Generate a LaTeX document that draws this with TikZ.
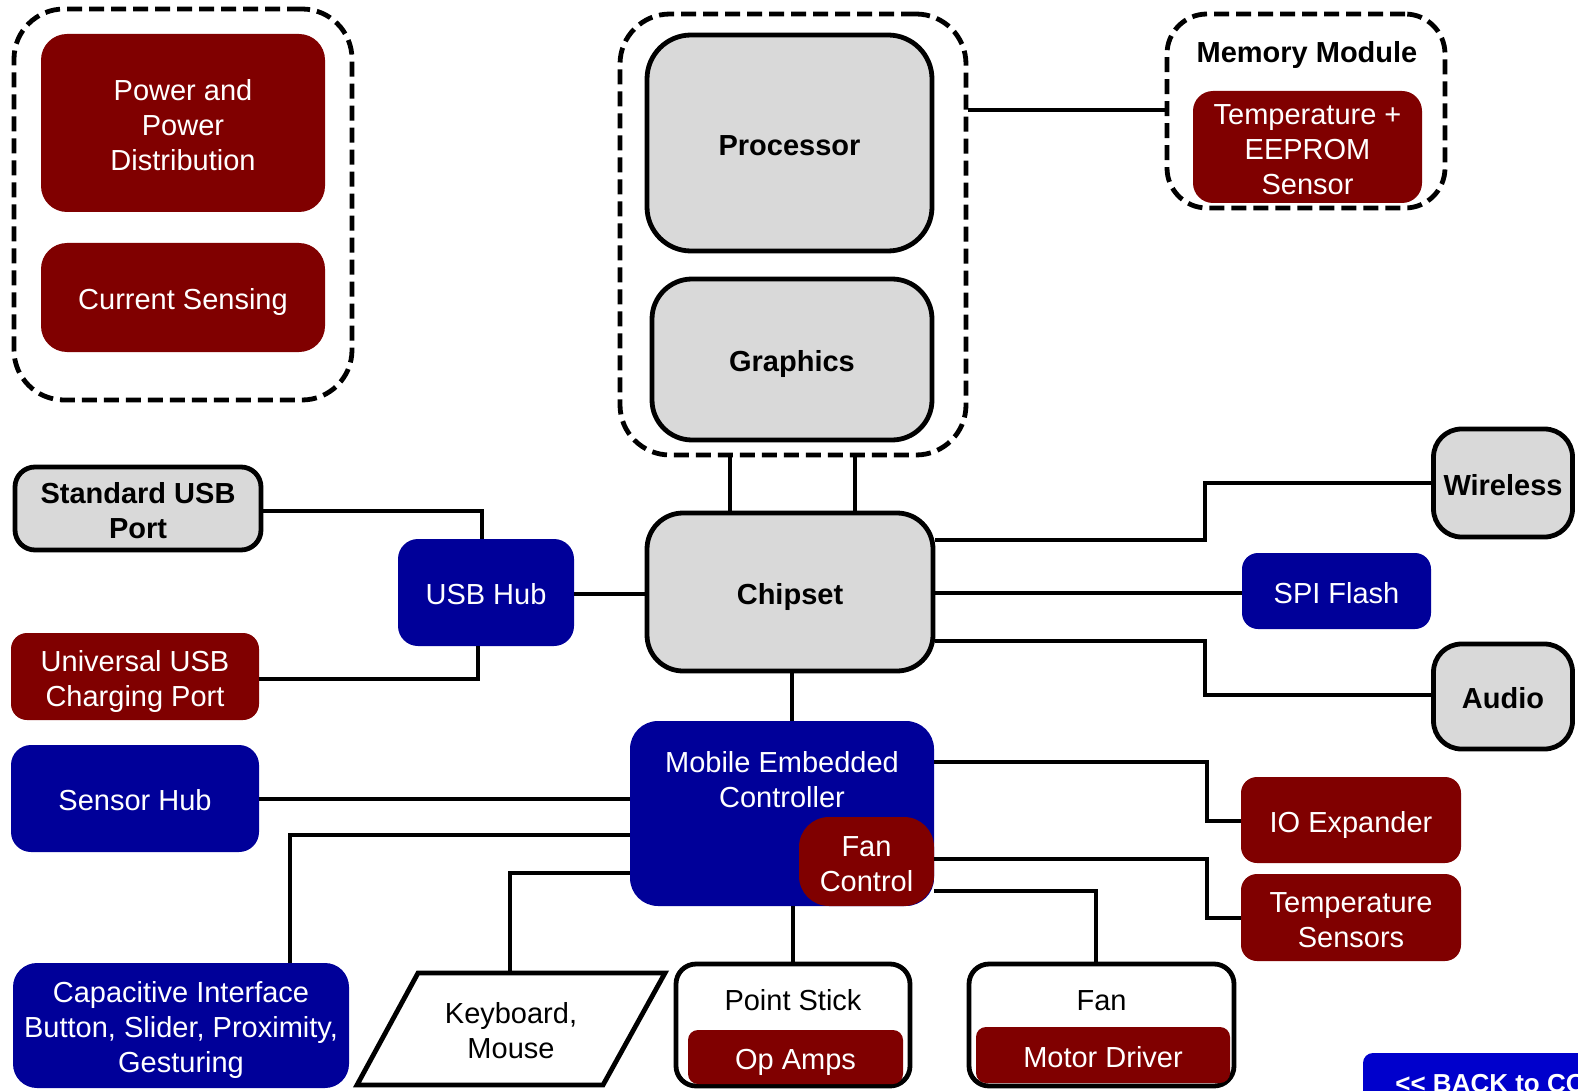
\documentclass[tikz,border=0pt]{standalone}
\usepackage{fontspec}
\setmainfont{Liberation Sans}
\definecolor{dred}{RGB}{128,0,0}
\definecolor{dblue}{RGB}{0,0,153}
\definecolor{bblue}{RGB}{0,0,204}
\definecolor{lgray}{RGB}{217,217,217}
\newcommand\tpR{\rule{0pt}{15.9pt}}
\newcommand\btR{\rule[-3.5pt]{0pt}{3.5pt}}
\begin{document}
\begin{tikzpicture}[x=0.5pt,y=-0.5pt,
  every node/.style={font=\fontsize{14.5}{17.5}\selectfont, inner sep=0pt, align=center},
  redbox/.style={fill=dred, text=white, rounded corners=#1},
  redbox/.default=10pt,
  bluebox/.style={fill=dblue, text=white, rounded corners=#1},
  bluebox/.default=10pt,
  graybox/.style={draw=black, line width=2.4pt, fill=lgray, rounded corners=#1,
    font=\fontsize{14.5}{17.5}\selectfont\bfseries},
  graybox/.default=18pt,
  whitebox/.style={draw=black, line width=2.4pt, fill=white, rounded corners=10pt},
  group/.style={draw=black, line width=2.4pt, dash pattern=on 7.5pt off 3.5pt, rounded corners=#1},
  conn/.style={line width=2.4pt}
]
\useasboundingbox (0,0) rectangle (1578,1091);
\clip (0,0) rectangle (1578,1091);

% ---- power group
\node[group=25pt, minimum width=169pt, minimum height=195.5pt] (pwrgrp) at (183,204.5) {};
\node[redbox=13pt, minimum width=142pt, minimum height=89pt] (pwr) at (183,123) {\tpR Power and\\Power\\Distribution\btR};
\node[redbox=13pt, minimum width=142pt, minimum height=54.5pt] (cur) at (183,297.5) {\tpR Current Sensing\btR};

% ---- CPU group
\node[group=25pt, minimum width=173pt, minimum height=220.5pt] (cpugrp) at (793,234.5) {};
\node[graybox=22pt, minimum width=142.5pt, minimum height=108pt] (proc) at (789.5,143) {\tpR Processor\btR};
\node[graybox=20pt, minimum width=140pt, minimum height=80.5pt] (gfx) at (792,359.5) {\tpR Graphics\btR};

% ---- memory module
\node[group=20pt, minimum width=139pt, minimum height=97pt] (memgrp) at (1306,111) {};
\node[font=\fontsize{14.5}{17.5}\selectfont\bfseries] (memlbl) at (1307,50) {\tpR Memory Module\btR};
\node[redbox=10pt, minimum width=114.5pt, minimum height=56pt] (eeprom) at (1307.5,147) {\tpR Temperature +\\EEPROM\\Sensor\btR};

% ---- chipset and neighbours
\node[graybox=18pt, minimum width=143pt, minimum height=79pt] (chip) at (790,592) {\tpR Chipset\btR};
\node[bluebox=10pt, minimum width=88pt, minimum height=53.5pt] (hub) at (486,592.5) {\tpR USB Hub\btR};
\node[graybox=10pt, minimum width=123pt, minimum height=41.5pt] (stdusb) at (138,508.5) {\tpR Standard USB\\Port\btR};
\node[redbox=8pt, minimum width=124pt, minimum height=43.5pt] (uniusb) at (135,676.5) {\tpR Universal USB\\Charging Port\btR};
\node[graybox=14pt, minimum width=69.5pt, minimum height=54pt] (wifi) at (1503,483) {\tpR Wireless\btR};
\node[bluebox=8pt, minimum width=94.5pt, minimum height=38pt] (spi) at (1336.5,591) {\tpR SPI Flash\btR};
\node[graybox=14pt, minimum width=69.5pt, minimum height=52.5pt] (audio) at (1503,696.5) {\tpR Audio\btR};

% ---- embedded controller
\node[bluebox=14pt, minimum width=152pt, minimum height=92.5pt] (mec) at (782,813.5) {};
\node[text=white] (mectxt) at (782,777.5) {\tpR Mobile Embedded\\Controller\btR};
\node[redbox=15pt, minimum width=67.5pt, minimum height=44.5pt] (fanctl) at (866.5,861.5) {\tpR Fan\\Control\btR};

\node[bluebox=10pt, minimum width=124pt, minimum height=53.5pt] (sensor) at (135,798.5) {\tpR Sensor Hub\btR};
\node[bluebox=12pt, minimum width=168pt, minimum height=62.5pt] (cap) at (181,1025.5) {\tpR Capacitive Interface\\Button, Slider, Proximity,\\Gesturing\btR};

\draw[line width=2.4pt, fill=white] (418,973) -- (665,973) -- (603,1085) -- (357,1085) -- cycle;
\node[minimum height=56pt, minimum width=10pt] (kbd) at (511,1029) {\tpR Keyboard,\\Mouse\btR};

\node[whitebox, minimum width=117pt, minimum height=61pt] (pstick) at (793,1025) {};
\node (pslbl) at (793,998) {\tpR Point Stick\btR};
\node[redbox=5pt, minimum width=107.5pt, minimum height=27pt] (opamp) at (795.5,1057) {\tpR Op Amps\btR};

\node[whitebox, minimum width=132.5pt, minimum height=61pt] (fan) at (1101.5,1025) {};
\node (fanlbl) at (1101.5,998) {\tpR Fan\btR};
\node[redbox=5pt, minimum width=127pt, minimum height=28pt] (motor) at (1103,1055) {\tpR Motor Driver\btR};

\node[redbox=8pt, minimum width=110pt, minimum height=43pt] (io) at (1351,820) {\tpR IO Expander\btR};
\node[redbox=8pt, minimum width=110pt, minimum height=43.5pt] (temp) at (1351,917.5) {\tpR Temperature\\Sensors\btR};

% ---- back button
\fill[bblue, rounded corners=5pt] (1363,1053) rectangle (1700,1140);
\node[anchor=west, text=white, font=\fontsize{13}{15}\selectfont\bfseries] (back) at (1395,1084) {<{}< BACK to CO};

% ---- connectors
\draw[conn] (cpugrp.south -| 730,0) -- (chip.north -| 730,0);
\draw[conn] (cpugrp.south -| 855,0) -- (chip.north -| 855,0);
\draw[conn] (cpugrp.east |- 0,110) -- (memgrp.west |- 0,110);
\draw[conn] (stdusb.east |- 0,511) -| (hub.north -| 482,0);
\draw[conn] (uniusb.east |- 0,679) -| (hub.south -| 478,0);
\draw[conn] (hub.east |- 0,594) -- (chip.west |- 0,594);
\draw[conn] (chip.east |- 0,540) -- (1205,540) |- (wifi.west);
\draw[conn] (chip.east |- 0,593) -- (spi.west |- 0,593);
\draw[conn] (chip.east |- 0,641) -- (1205,641) |- (audio.west |- 0,695);
\draw[conn] (chip.south -| 792,0) -- (mec.north -| 792,0);
\draw[conn] (sensor.east |- 0,799) -- (mec.west |- 0,799);
\draw[conn] (mec.west |- 0,835) -| (cap.north -| 290,0);
\draw[conn] (mec.west |- 0,873) -| (kbd.north -| 510,0);
\draw[conn] (mec.south -| 793,0) -- (pstick.north -| 793,0);
\draw[conn] (mec.east |- 0,762) -- (1207,762) |- (io.west |- 0,821);
\draw[conn] (fanctl.east |- 0,859) -- (1207,859) |- (temp.west |- 0,918);
\draw[conn] (fanctl.east |- 0,891) -| (fan.north -| 1096,0);
\end{tikzpicture}
\end{document}
